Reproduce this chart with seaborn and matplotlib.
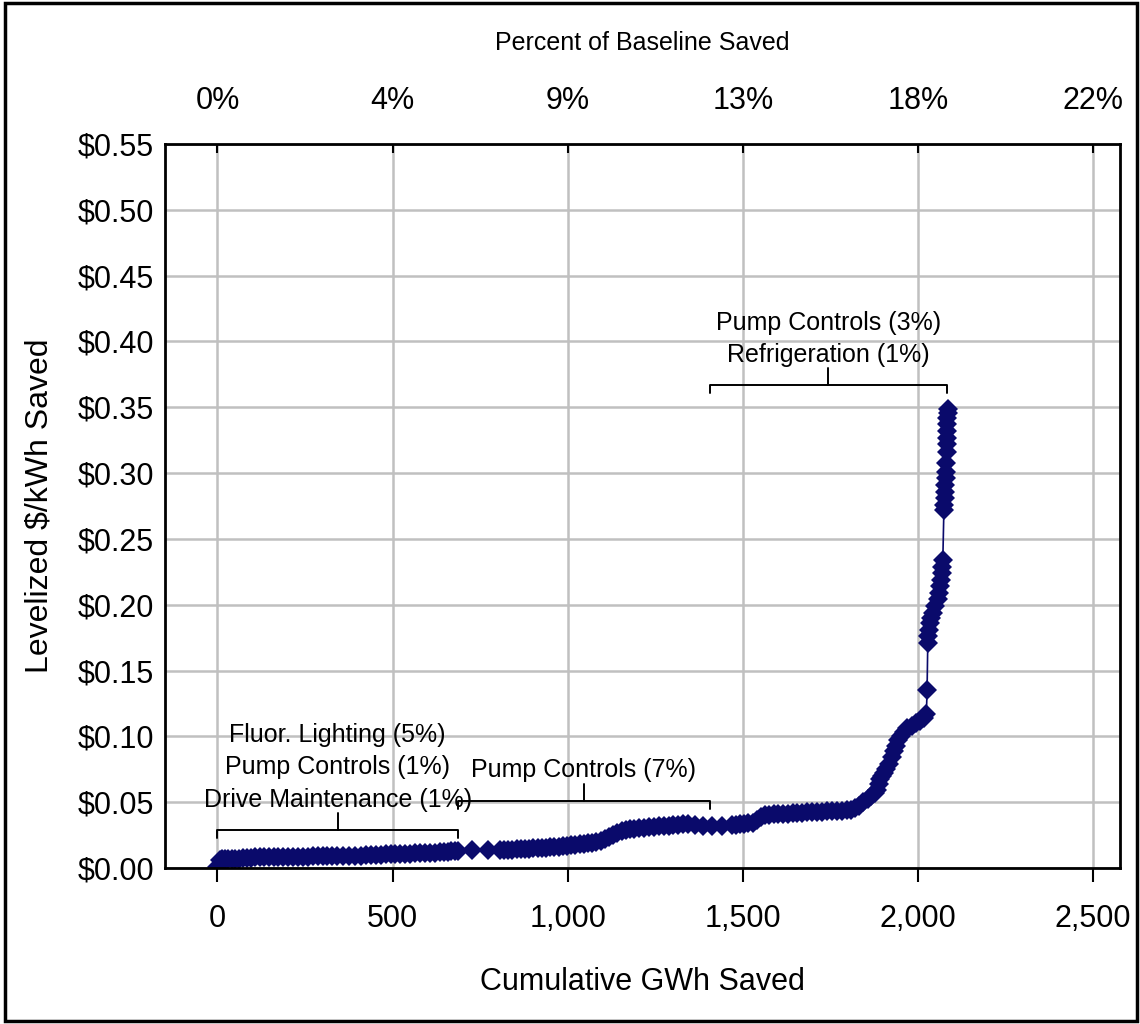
import matplotlib
matplotlib.use("Agg")
import matplotlib.pyplot as plt
from matplotlib.patches import Rectangle
import seaborn as sns

# supply curve (cumulative GWh, levelized $/kWh)
gwh = [0, 6, 14, 22, 30, 40, 50, 60, 72, 84, 96, 108, 120, 132, 146, 160, 174, 188,
       202, 216, 230, 244, 258, 272, 286, 300, 314, 328, 342, 358, 376, 394, 410, 424,
       438, 452, 466, 480, 494, 508, 522, 536, 550, 564, 578, 592, 606, 620, 634, 646,
       658, 668, 678, 686,
       726, 771,
       806, 818, 830, 842, 854, 866, 878, 890, 902, 914, 926, 938, 950, 962, 974, 986,
       998, 1010, 1022, 1034, 1046, 1058, 1070, 1082, 1094, 1106, 1118, 1130, 1142,
       1154, 1166, 1178, 1190, 1204, 1218, 1232, 1246, 1260, 1274, 1288, 1302, 1316,
       1330, 1344,
       1363, 1386, 1411, 1440,
       1469, 1480, 1492, 1504, 1516, 1528, 1540, 1552, 1564, 1576, 1588, 1600, 1614,
       1628, 1642, 1656, 1670, 1684, 1698, 1712, 1726, 1740, 1754, 1768, 1782, 1796,
       1808, 1820, 1832, 1844, 1856, 1866, 1876, 1884, 1888, 1892, 1896, 1902, 1910,
       1918, 1926, 1932, 1938, 1944, 1952, 1960, 1970, 1982, 1994, 2006, 2016, 2024,
       2026, 2028, 2030, 2032, 2034, 2038, 2044, 2050, 2056, 2060, 2064, 2067, 2069,
       2070, 2071,
       2074, 2075, 2076, 2077, 2078, 2079, 2080, 2081, 2082, 2082, 2083, 2083, 2084,
       2084, 2085, 2085]
cost = [0.001, 0.006, 0.0065, 0.0065, 0.0068, 0.007, 0.007, 0.0072, 0.0075, 0.0078,
        0.008, 0.0082, 0.0082, 0.0083, 0.0083, 0.0084, 0.0085, 0.0085, 0.0086, 0.0086,
        0.0086, 0.0087, 0.0087, 0.0088, 0.0088, 0.0088, 0.0089, 0.009, 0.009, 0.009,
        0.0091, 0.0092, 0.0094, 0.0096, 0.0098, 0.0100, 0.0102, 0.0104, 0.0106, 0.0107,
        0.0108, 0.0109, 0.0110, 0.0111, 0.0112, 0.0113, 0.0115, 0.0117, 0.0119, 0.0121,
        0.0124, 0.0127, 0.013, 0.0133,
        0.0136, 0.0137,
        0.0137, 0.0138, 0.0139, 0.014, 0.0141, 0.0143, 0.0145, 0.0147, 0.0149, 0.015,
        0.0152, 0.0154, 0.0157, 0.016, 0.0163, 0.0166, 0.0169, 0.0172, 0.0176, 0.018,
        0.0184, 0.0188, 0.0192, 0.0198, 0.0208, 0.022, 0.0235, 0.025, 0.0265, 0.0278,
        0.0288, 0.0295, 0.03, 0.0304, 0.0307, 0.031, 0.0313, 0.0316, 0.0319, 0.0322,
        0.0325, 0.0328, 0.0331, 0.0333,
        0.0325, 0.0322, 0.032, 0.0322,
        0.0328, 0.033, 0.0334, 0.0338, 0.034, 0.0345, 0.0365, 0.0385, 0.04, 0.0405,
        0.0408, 0.041, 0.0412, 0.0414, 0.0416, 0.0418, 0.042, 0.0422, 0.0424, 0.0426,
        0.0428, 0.043, 0.0432, 0.0434, 0.0436, 0.0438, 0.0442, 0.0455, 0.0475, 0.05,
        0.0525, 0.055, 0.057, 0.059, 0.064, 0.068, 0.070, 0.072, 0.075, 0.079, 0.084,
        0.089, 0.093, 0.097, 0.100, 0.103, 0.106, 0.108, 0.110, 0.112, 0.114, 0.117,
        0.135, 0.171, 0.176, 0.181, 0.186, 0.19, 0.194, 0.199, 0.204, 0.209, 0.214,
        0.219, 0.224, 0.229, 0.234,
        0.272, 0.276, 0.281, 0.286, 0.291, 0.296, 0.301, 0.308, 0.316, 0.322, 0.327,
        0.332, 0.337, 0.342, 0.346, 0.349]

x_ticks = [0, 500, 1000, 1500, 2000, 2500]
x_tick_labels = ["0", "500", "1,000", "1,500", "2,000", "2,500"]
pct_tick_labels = ["0%", "4%", "9%", "13%", "18%", "22%"]
y_ticks = [0.0, 0.05, 0.10, 0.15, 0.20, 0.25, 0.30, 0.35, 0.40, 0.45, 0.50, 0.55]

# bracket annotations: (start GWh, end GWh, bracket level, label lines)
groups = [
    (0, 686, 0.0289, ["Fluor. Lighting (5%)", "Pump Controls (1%)", "Drive Maintenance (1%)"]),
    (686, 1406, 0.0512, ["Pump Controls (7%)"]),
    (1406, 2083, 0.3667, ["Pump Controls (3%)", "Refrigeration (1%)"]),
]

navy = "#0a0a6b"

sns.set_style("white")
plt.rcParams["font.family"] = ["Liberation Sans", "DejaVu Sans"]
plt.rcParams["text.color"] = "black"
plt.rcParams["axes.labelcolor"] = "black"
plt.rcParams["xtick.color"] = "black"
plt.rcParams["ytick.color"] = "black"

fig = plt.figure(figsize=(11.4, 10.24), dpi=100)
ax = fig.add_axes([0.1447, 0.1523, 0.8378, 0.7071])

sns.lineplot(x=gwh, y=cost, ax=ax, color=navy, linewidth=1.2, marker="D",
             markersize=10, markeredgewidth=0, sort=False, estimator=None)

ax.set_xlim(-150, 2577)
ax.set_ylim(0, 0.55)
ax.set_xticks(x_ticks)
ax.set_xticklabels(x_tick_labels, fontsize=22)
ax.set_yticks(y_ticks)
ax.set_yticklabels(["${:.2f}".format(v) for v in y_ticks], fontsize=22)
ax.grid(True, color="#c0c0c0", linewidth=1.8)
ax.set_axisbelow(True)
ax.tick_params(axis="x", direction="out", length=10, width=1.5, pad=16)
ax.tick_params(axis="y", direction="out", length=5, width=1.5, pad=3)
for s in ax.spines.values():
    s.set_color("black")
    s.set_linewidth(2)
ax.set_xlabel("Cumulative GWh Saved", fontsize=22, labelpad=24)
ax.set_ylabel("Levelized $/kWh Saved", fontsize=23, labelpad=16)

top = ax.twiny()
top.set_xlim(ax.get_xlim())
top.set_xticks(x_ticks)
top.set_xticklabels(pct_tick_labels, fontsize=22)
top.tick_params(axis="x", direction="in", length=6.5, width=1.5, pad=20)
top.set_xlabel("Percent of Baseline Saved", fontsize=18, labelpad=26)
for s in top.spines.values():
    s.set_visible(False)

# brackets with centred labels above them
for x0, x1, yb, lines in groups:
    xc = (x0 + x1) / 2
    ax.plot([x0, x0, x1, x1], [yb - 0.006, yb, yb, yb - 0.006], color="black", lw=1.4)
    ax.plot([xc, xc], [yb, yb + 0.013], color="black", lw=1.4)
    n = len(lines)
    for i, t in enumerate(lines):
        ax.text(xc, yb + 0.023 + (n - 1 - i) * 0.0245, t, ha="center", va="center",
                fontsize=18)

fig.add_artist(Rectangle((0.004, 0.003), 0.993, 0.994, transform=fig.transFigure,
                         fill=False, edgecolor="black", linewidth=2.5))

fig.savefig("out.png", dpi=100)
